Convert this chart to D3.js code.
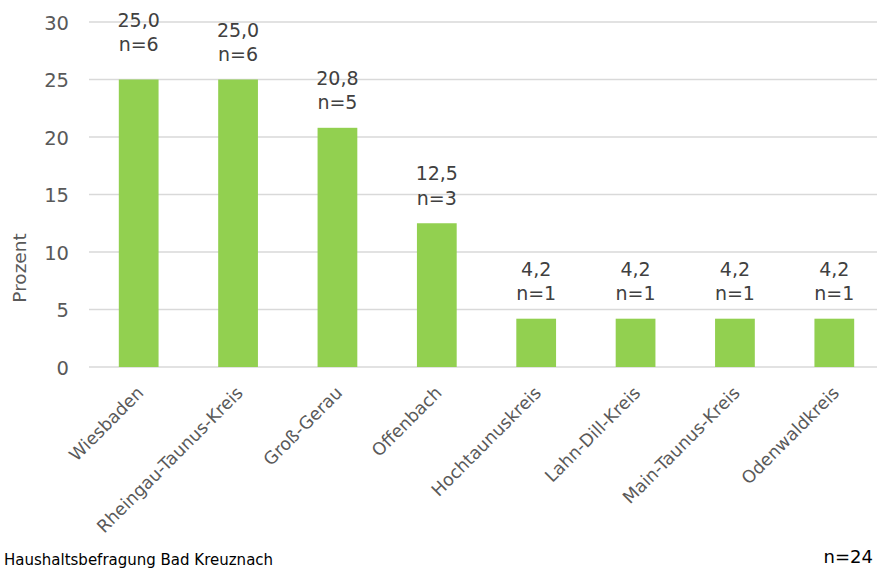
<!DOCTYPE html>
<html>
<head>
<meta charset="utf-8">
<script src="https://cdn.jsdelivr.net/npm/d3@7"></script>
<style>
  html, body { margin: 0; padding: 0; background: #fff; }
  svg { display: block; font-family: "DejaVu Sans", Verdana, sans-serif; }
</style>
</head>
<body>
<svg id="chart" width="877" height="570"></svg>
<script>
const categories = ["Wiesbaden", "Rheingau-Taunus-Kreis", "Groß-Gerau", "Offenbach",
  "Hochtaunuskreis", "Lahn-Dill-Kreis", "Main-Taunus-Kreis", "Odenwaldkreis"];
const percentValues = [25.0, 25.0, 20.8, 12.5, 4.2, 4.2, 4.2, 4.2];
const counts = [6, 6, 5, 3, 1, 1, 1, 1];
const yTicks = [0, 5, 10, 15, 20, 25, 30];
const yAxisTitle = "Prozent";
const sourceText = "Haushaltsbefragung Bad Kreuznach";
const totalText = "n=24";

const svg = d3.select("#chart");
const plot = { left: 89, right: 884, top: 22, bottom: 367 };
const fmt = v => v.toFixed(1).replace(".", ",");

const x = d3.scaleBand().domain(categories).range([plot.left, plot.right])
  .paddingInner(0.6).paddingOuter(0.3);
const y = d3.scaleLinear().domain([0, 30]).range([plot.bottom, plot.top]);

// gridlines
svg.append("g").selectAll("line").data(yTicks).join("line")
  .attr("x1", plot.left).attr("x2", 877)
  .attr("y1", d => y(d)).attr("y2", d => y(d))
  .attr("stroke", "#d9d9d9").attr("stroke-width", 1.3);

// y axis labels
const yAxis = d3.axisLeft(y).tickValues(yTicks).tickSize(0).tickPadding(0).tickFormat(d3.format("d"));
const yg = svg.append("g").attr("transform", `translate(${plot.left - 20},0)`).call(yAxis);
yg.select(".domain").remove();
yg.selectAll("text").attr("font-size", 19.5).attr("fill", "#595959")
  .attr("font-family", "DejaVu Sans, sans-serif").attr("dy", "0.36em");

// bars
svg.append("g").selectAll("rect").data(categories).join("rect")
  .attr("x", d => x(d)).attr("width", x.bandwidth())
  .attr("y", (d, i) => y(percentValues[i]))
  .attr("height", (d, i) => y(0) - y(percentValues[i]))
  .attr("fill", "#92d050");

// value labels
const lab = svg.append("g").selectAll("text").data(categories).join("text")
  .attr("text-anchor", "middle")
  .attr("font-size", 19).attr("fill", "#404040")
  .attr("x", d => x(d) + x.bandwidth() / 2)
  .attr("y", (d, i) => y(percentValues[i]) - 19 - 24 - (i === 0 ? 10 : 0));
lab.append("tspan").text((d, i) => fmt(percentValues[i]));
lab.append("tspan").attr("x", d => x(d) + x.bandwidth() / 2).attr("dy", 24.5)
  .text((d, i) => "n=" + counts[i]);

// x axis labels
const xAxis = d3.axisBottom(x).tickSize(0).tickPadding(0);
const xg = svg.append("g").attr("transform", `translate(0,${plot.bottom})`).call(xAxis);
xg.select(".domain").remove();
xg.selectAll("text")
  .attr("font-size", 17.5).attr("fill", "#595959").attr("font-family", "DejaVu Sans, sans-serif")
  .attr("text-anchor", "end").attr("dy", null).attr("y", 0)
  .attr("transform", "translate(6,27) rotate(-45)");

// y axis title
svg.append("text").attr("transform", `translate(26,268) rotate(-90)`)
  .attr("text-anchor", "middle").attr("font-size", 18.5).attr("fill", "#595959")
  .text(yAxisTitle);

// footer
svg.append("text").attr("x", 4).attr("y", 565).attr("font-size", 15).attr("fill", "#000")
  .text(sourceText);
svg.append("text").attr("x", 873).attr("y", 563).attr("text-anchor", "end")
  .attr("font-size", 18).attr("fill", "#000").text(totalText);
</script>
</body>
</html>
